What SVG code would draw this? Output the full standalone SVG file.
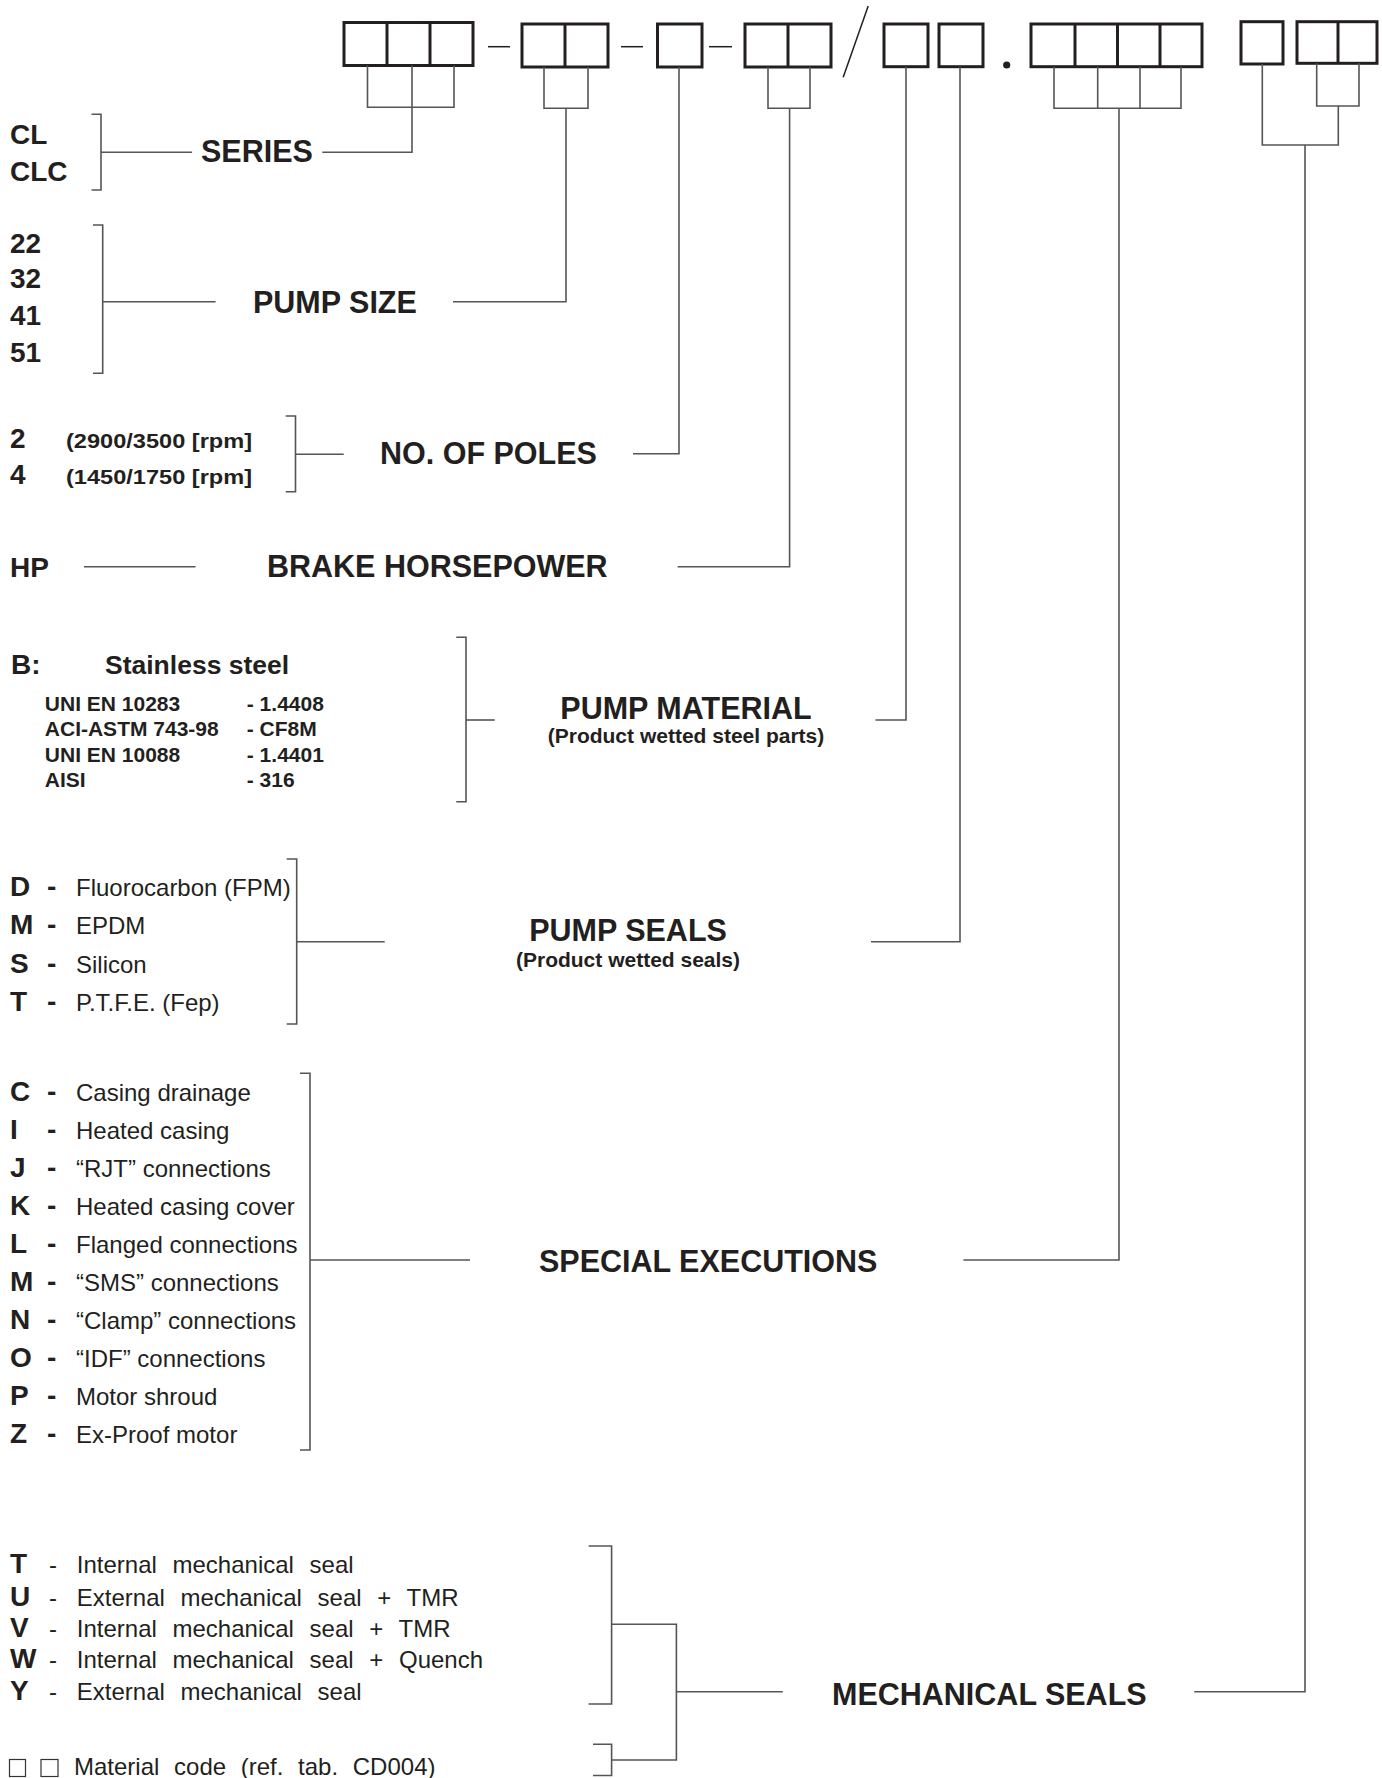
<svg xmlns="http://www.w3.org/2000/svg" width="1382" height="1778" viewBox="0 0 1382 1778">
<style>
  text { font-family: "Liberation Sans", Arial, Helvetica, sans-serif; fill: #231f20; }
  .code { font-size: 28px; font-weight: bold; }
  .title { font-size: 30.5px; font-weight: bold; }
  .sub { font-size: 21px; font-weight: bold; }
  .small { font-size: 21px; font-weight: bold; }
  .desc { font-size: 24px; }
  .mdesc { font-size: 24px; word-spacing: 9px; }
  .box { fill: none; stroke: #231f20; stroke-width: 3; }
  .dash { stroke: #231f20; stroke-width: 1.5; fill: none; }
  .conn { fill: none; stroke: #555; stroke-width: 1.6; }
  .mid { text-anchor: middle; }
</style>
<rect width="1382" height="1778" fill="#fff"/>

<g id="code-boxes">
  <g id="box-series">
    <rect class="box" x="344" y="22.5" width="129" height="43"/>
    <line class="box" x1="387" y1="22.5" x2="387" y2="65.5"/>
    <line class="box" x1="430" y1="22.5" x2="430" y2="65.5"/>
  </g>
  <line class="dash" x1="488" y1="46.7" x2="510" y2="46.7"/>
  <g id="box-size">
    <rect class="box" x="522" y="24" width="86" height="43"/>
    <line class="box" x1="565" y1="24" x2="565" y2="67"/>
  </g>
  <line class="dash" x1="621" y1="46.7" x2="643" y2="46.7"/>
  <g id="box-poles">
    <rect class="box" x="657.5" y="24" width="44.5" height="43"/>
  </g>
  <line class="dash" x1="709" y1="46.7" x2="732" y2="46.7"/>
  <g id="box-hp">
    <rect class="box" x="745" y="24" width="86" height="43"/>
    <line class="box" x1="788" y1="24" x2="788" y2="67"/>
  </g>
  <line class="dash" x1="843.2" y1="77.3" x2="868.2" y2="6" stroke-width="2"/>
  <g id="box-material">
    <rect class="box" x="884" y="24" width="44" height="42.7"/>
  </g>
  <g id="box-seals">
    <rect class="box" x="939" y="24" width="44" height="42.7"/>
  </g>
  <circle cx="1006.7" cy="65" r="3.6" fill="#231f20"/>
  <g id="box-special">
    <rect class="box" x="1031" y="24" width="171" height="42.7"/>
    <line class="box" x1="1075" y1="24" x2="1075" y2="66.7"/>
    <line class="box" x1="1117.5" y1="24" x2="1117.5" y2="66.7"/>
    <line class="box" x1="1160" y1="24" x2="1160" y2="66.7"/>
  </g>
  <g id="box-mech">
    <rect class="box" x="1241" y="21.7" width="42" height="42.3"/>
    <rect class="box" x="1297" y="21.7" width="80" height="41.6"/>
    <line class="box" x1="1338" y1="21.7" x2="1338" y2="63.3"/>
  </g>
</g>

<g id="connectors">
  <!-- series -->
  <polyline class="conn" points="367.5,65.5 367.5,107.3 454,107.3 454,65.5"/>
  <polyline class="conn" points="412,65.5 412,152.3 322.3,152.3"/>
  <polyline class="conn" points="91.5,114.3 101,114.3 101,190 91.5,190"/>
  <line class="conn" x1="101" y1="152.3" x2="192" y2="152.3"/>
  <!-- pump size -->
  <polyline class="conn" points="544,67 544,108.3 588,108.3 588,67"/>
  <polyline class="conn" points="566,108.3 566,301.7 453,301.7"/>
  <polyline class="conn" points="93,225 102.7,225 102.7,373.3 93,373.3"/>
  <line class="conn" x1="102.7" y1="301.7" x2="215.6" y2="301.7"/>
  <!-- poles -->
  <polyline class="conn" points="679,67 679,453.8 633,453.8"/>
  <polyline class="conn" points="285.7,416 295.5,416 295.5,491.7 285.7,491.7"/>
  <line class="conn" x1="295.5" y1="454.3" x2="343.7" y2="454.3"/>
  <!-- hp -->
  <polyline class="conn" points="768,67 768,108.3 810,108.3 810,67"/>
  <polyline class="conn" points="789.6,108.3 789.6,566.7 677.6,566.7"/>
  <line class="conn" x1="84" y1="566.7" x2="195.5" y2="566.7"/>
  <!-- material -->
  <polyline class="conn" points="906,66.7 906,720 875.4,720"/>
  <polyline class="conn" points="456.3,637.3 466,637.3 466,801.7 456.3,801.7"/>
  <line class="conn" x1="466" y1="720" x2="494.8" y2="720"/>
  <!-- seals -->
  <polyline class="conn" points="960,66.7 960,941.7 871,941.7"/>
  <polyline class="conn" points="286.7,859 296.7,859 296.7,1024 286.7,1024"/>
  <line class="conn" x1="296.7" y1="941.7" x2="384.7" y2="941.7"/>
  <!-- special -->
  <polyline class="conn" points="1054,66.7 1054,108.3 1181,108.3 1181,66.7"/>
  <line class="conn" x1="1097.7" y1="66.7" x2="1097.7" y2="108.3"/>
  <line class="conn" x1="1140" y1="66.7" x2="1140" y2="108.3"/>
  <polyline class="conn" points="1119,108.3 1119,1260 963.4,1260"/>
  <polyline class="conn" points="300,1073.3 310,1073.3 310,1450 300,1450"/>
  <line class="conn" x1="310" y1="1260" x2="470" y2="1260"/>
  <!-- mechanical -->
  <polyline class="conn" points="1316.7,63.3 1316.7,106 1359,106 1359,63.3"/>
  <polyline class="conn" points="1262.3,64 1262.3,145 1338.3,145 1338.3,106"/>
  <polyline class="conn" points="1305,145 1305,1691.7 1194.3,1691.7"/>
  <polyline class="conn" points="588.6,1546 611.6,1546 611.6,1704 588.6,1704"/>
  <polyline class="conn" points="593,1744.3 611.6,1744.3 611.6,1775.5 593,1775.5"/>
  <polyline class="conn" points="611.6,1624.3 676.4,1624.3 676.4,1760 611.6,1760"/>
  <line class="conn" x1="676.4" y1="1691.7" x2="782.8" y2="1691.7"/>
</g>

<g id="series">
  <text class="code" x="10" y="144.3">CL</text>
  <text class="code" x="10" y="181">CLC</text>
  <text class="title" x="201" y="162.3">SERIES</text>
</g>

<g id="pump-size">
  <text class="code" x="10" y="252.7">22</text>
  <text class="code" x="10" y="288.3">32</text>
  <text class="code" x="10" y="325">41</text>
  <text class="code" x="10" y="361.7">51</text>
  <text class="title" x="253" y="313.3">PUMP SIZE</text>
</g>

<g id="poles">
  <text class="code" x="10" y="447.7">2</text>
  <text class="code" x="10" y="484">4</text>
  <text class="small" x="66" y="447.7" textLength="186" lengthAdjust="spacingAndGlyphs">(2900/3500 [rpm]</text>
  <text class="small" x="66" y="484" textLength="186" lengthAdjust="spacingAndGlyphs">(1450/1750 [rpm]</text>
  <text class="title" x="380" y="464">NO. OF POLES</text>
</g>

<g id="hp">
  <text class="code" x="10" y="576.7">HP</text>
  <text class="title" x="267" y="576.7">BRAKE HORSEPOWER</text>
</g>

<g id="pump-material">
  <text class="code" x="11" y="674">B:</text>
  <text x="105" y="674" font-size="26.5" font-weight="bold">Stainless steel</text>
  <text class="sub" x="44.8" y="710.7">UNI EN 10283</text>
  <text class="sub" x="246.8" y="710.7">- 1.4408</text>
  <text class="sub" x="44.8" y="736">ACI-ASTM 743-98</text>
  <text class="sub" x="246.8" y="736">- CF8M</text>
  <text class="sub" x="44.8" y="761.7">UNI EN 10088</text>
  <text class="sub" x="246.8" y="761.7">- 1.4401</text>
  <text class="sub" x="44.8" y="786.7">AISI</text>
  <text class="sub" x="246.8" y="786.7">- 316</text>
  <text class="title mid" x="686" y="719.3">PUMP MATERIAL</text>
  <text class="small mid" x="686" y="743.3">(Product wetted steel parts)</text>
</g>

<g id="pump-seals">
  <text class="code" x="10" y="895.5">D</text>
  <text class="code" x="10" y="934">M</text>
  <text class="code" x="10" y="972.5">S</text>
  <text class="code" x="10" y="1011">T</text>
  <text class="code" x="47" y="895.5">-</text>
  <text class="code" x="47" y="934">-</text>
  <text class="code" x="47" y="972.5">-</text>
  <text class="code" x="47" y="1011">-</text>
  <text class="desc" x="76" y="895.5">Fluorocarbon (FPM)</text>
  <text class="desc" x="76" y="934">EPDM</text>
  <text class="desc" x="76" y="972.5">Silicon</text>
  <text class="desc" x="76" y="1011">P.T.F.E. (Fep)</text>
  <text class="title mid" x="628" y="940.7">PUMP SEALS</text>
  <text class="small mid" x="628" y="966.7">(Product wetted seals)</text>
</g>

<g id="special-executions">
  <text class="code" x="10" y="1100.7">C</text>
  <text class="code" x="10" y="1138.8">I</text>
  <text class="code" x="10" y="1176.8">J</text>
  <text class="code" x="10" y="1214.9">K</text>
  <text class="code" x="10" y="1253">L</text>
  <text class="code" x="10" y="1291">M</text>
  <text class="code" x="10" y="1329.1">N</text>
  <text class="code" x="10" y="1367.2">O</text>
  <text class="code" x="10" y="1405.3">P</text>
  <text class="code" x="10" y="1443.3">Z</text>
  <text class="code" x="47" y="1100.7">-</text>
  <text class="code" x="47" y="1138.8">-</text>
  <text class="code" x="47" y="1176.8">-</text>
  <text class="code" x="47" y="1214.9">-</text>
  <text class="code" x="47" y="1253">-</text>
  <text class="code" x="47" y="1291">-</text>
  <text class="code" x="47" y="1329.1">-</text>
  <text class="code" x="47" y="1367.2">-</text>
  <text class="code" x="47" y="1405.3">-</text>
  <text class="code" x="47" y="1443.3">-</text>
  <text class="desc" x="76" y="1100.7">Casing drainage</text>
  <text class="desc" x="76" y="1138.8">Heated casing</text>
  <text class="desc" x="76" y="1176.8">“RJT” connections</text>
  <text class="desc" x="76" y="1214.9">Heated casing cover</text>
  <text class="desc" x="76" y="1253">Flanged connections</text>
  <text class="desc" x="76" y="1291">“SMS” connections</text>
  <text class="desc" x="76" y="1329.1">“Clamp” connections</text>
  <text class="desc" x="76" y="1367.2">“IDF” connections</text>
  <text class="desc" x="76" y="1405.3">Motor shroud</text>
  <text class="desc" x="76" y="1443.3">Ex-Proof motor</text>
  <text class="title" x="539" y="1271.7">SPECIAL EXECUTIONS</text>
</g>

<g id="mechanical-seals">
  <text class="code" x="10" y="1572.7">T</text>
  <text class="code" x="10" y="1606">U</text>
  <text class="code" x="10" y="1636.7">V</text>
  <text class="code" x="10" y="1668.3">W</text>
  <text class="code" x="10" y="1700">Y</text>
  <text class="desc" x="49" y="1572.7">-</text>
  <text class="desc" x="49" y="1606">-</text>
  <text class="desc" x="49" y="1636.7">-</text>
  <text class="desc" x="49" y="1668.3">-</text>
  <text class="desc" x="49" y="1700">-</text>
  <text class="mdesc" x="76.8" y="1572.7">Internal mechanical seal</text>
  <text class="mdesc" x="76.8" y="1606">External mechanical seal + TMR</text>
  <text class="mdesc" x="76.8" y="1636.7">Internal mechanical seal + TMR</text>
  <text class="mdesc" x="76.8" y="1668.3">Internal mechanical seal + Quench</text>
  <text class="mdesc" x="76.8" y="1700">External mechanical seal</text>
  <rect x="9.5" y="1759.5" width="16" height="17" fill="none" stroke="#333" stroke-width="1.2"/>
  <rect x="41" y="1759.5" width="17" height="17" fill="none" stroke="#333" stroke-width="1.2"/>
  <text class="desc" x="74" y="1775" style="word-spacing:8px">Material code (ref. tab. CD004)</text>
  <text class="title" x="832" y="1705">MECHANICAL SEALS</text>
</g>
</svg>
